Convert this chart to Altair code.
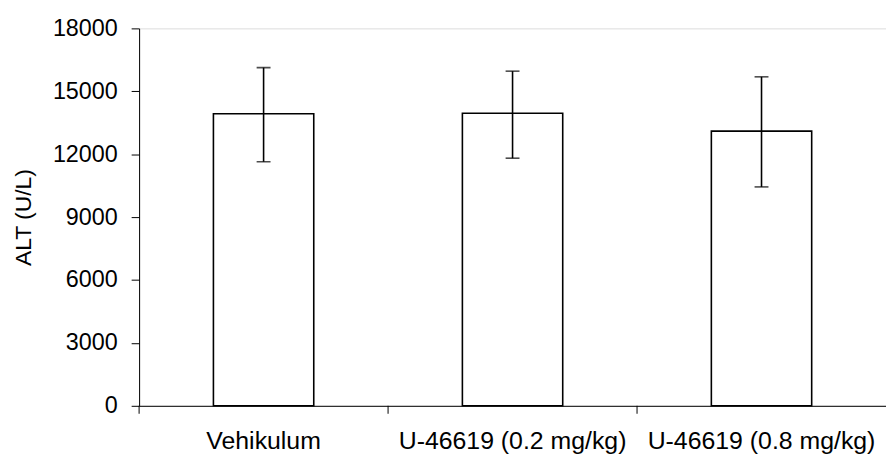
import altair as alt
import pandas as pd

categories = ["Vehikulum", "U-46619 (0.2 mg/kg)", "U-46619 (0.8 mg/kg)"]
means = [13930, 13950, 13100]
lows = [11640, 11810, 10440]
highs = [16130, 15960, 15690]
y_ticks = [0, 3000, 6000, 9000, 12000, 15000, 18000]

df = pd.DataFrame({"group": categories, "mean": means, "low": lows, "high": highs})

FONT = "Liberation Sans"
xscale = alt.Scale(domain=categories, paddingInner=0, paddingOuter=0)
yscale = alt.Scale(domain=[0, 18000], nice=False)

base = alt.Chart(df)

bars = base.mark_bar(
    fill="white", stroke="black", strokeWidth=1.6, width=alt.RelativeBandSize(0.403)
).encode(
    x=alt.X(
        "group:N",
        scale=xscale,
        sort=categories,
        axis=alt.Axis(
            title=None,
            labelAngle=0,
            labelFontSize=25,
            labelFont=FONT,
            labelColor="black",
            labelPadding=15,
            labelLimit=0,
            tickSize=8,
            tickOpacity=0,
            domainColor="black",
            domainWidth=1,
        ),
    ),
    y=alt.Y(
        "mean:Q",
        scale=yscale,
        axis=alt.Axis(
            values=y_ticks,
            format="d",
            title="ALT (U/L)",
            titleFontSize=23,
            titleFont=FONT,
            titleFontWeight="normal",
            titleColor="black",
            titlePadding=17,
            labelFontSize=23.5,
            labelFont=FONT,
            labelColor="black",
            labelPadding=14,
            tickSize=8,
            tickColor="black",
            domainColor="black",
            grid=False,
        ),
    ),
)

err = base.mark_rule(color="black", strokeWidth=1.6).encode(
    x=alt.X("group:N", scale=xscale, sort=categories),
    y=alt.Y("low:Q", scale=yscale),
    y2="high:Q",
)

caps_low = base.mark_tick(color="black", thickness=1.6, size=14).encode(
    x=alt.X("group:N", scale=xscale, sort=categories),
    y=alt.Y("low:Q", scale=yscale),
)
caps_high = base.mark_tick(color="black", thickness=1.6, size=14).encode(
    x=alt.X("group:N", scale=xscale, sort=categories),
    y=alt.Y("high:Q", scale=yscale),
)

xticks = base.mark_rule(color="black", strokeWidth=1).encode(
    x=alt.X("group:N", scale=xscale, sort=categories, bandPosition=0),
    y=alt.value(380),
    y2=alt.value(388),
)

chart = (
    alt.layer(bars, err, caps_low, caps_high, xticks)
    .properties(
        width=752,
        height=380,
        autosize=alt.AutoSizeParams(type="none"),
        padding={"left": 132, "top": 19, "right": 0, "bottom": 48},
    )
    .configure_view(stroke=None)
    .configure(font=FONT)
)

chart.save("out.html", embed_options={"renderer": "svg", "actions": False})
